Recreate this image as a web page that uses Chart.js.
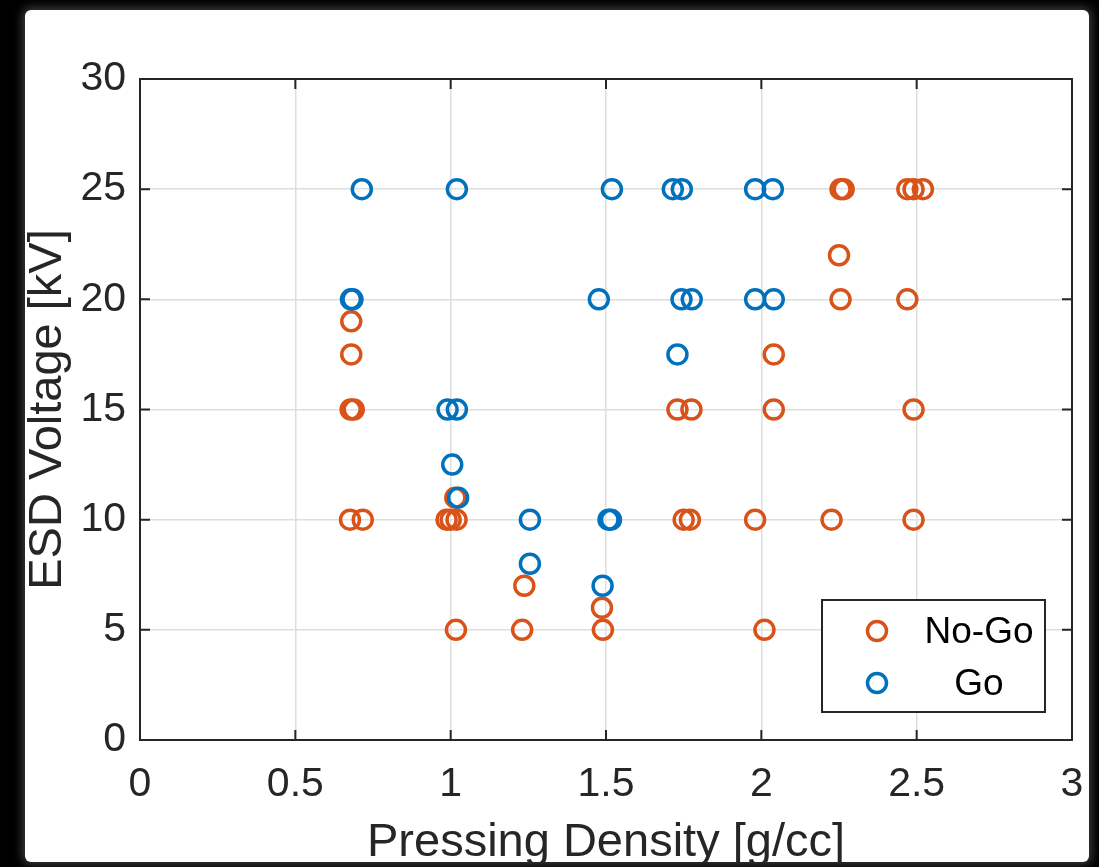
<!DOCTYPE html>
<html>
<head>
<meta charset="utf-8">
<script src="https://cdn.jsdelivr.net/npm/chart.js@4.4.1/dist/chart.umd.min.js"></script>
<style>
  html, body { margin: 0; padding: 0; background: #000; width: 1099px; height: 867px; overflow: hidden; }
  .panel {
    position: absolute; left: 25px; top: 10px; width: 1064px; height: 852px;
    background: #fff; border-radius: 6px; overflow: hidden;
    box-shadow: 0 0 10px 3px #3a3a3a;
  }
  canvas { display: block; }
</style>
</head>
<body>
<div class="panel"><canvas id="chart" width="1064" height="857"></canvas></div>
<script>
// ── Données ───────────────────────────────────────────────────────────────────
const noGoX = [2.255, 2.265, 2.47, 2.49, 2.52, 2.25, 2.255, 2.47, 0.68, 0.68, 2.04,
               0.678, 0.688, 1.73, 1.775, 2.04, 2.49, 1.015, 0.676, 0.717, 0.987,
               1.0, 1.019, 1.75, 1.77, 1.98, 2.226, 2.49, 1.237, 1.487, 1.017, 1.23,
               1.49, 2.01];
const noGoY = [25, 25, 25, 25, 25, 22, 20, 20, 19, 17.5, 17.5,
               15, 15, 15, 15, 15, 15, 11, 10, 10, 10,
               10, 10, 10, 10, 10, 10, 10, 7, 6, 5, 5,
               5, 5];

const goX = [0.714, 1.02, 1.519, 1.715, 1.744, 1.98, 2.037, 0.679, 0.684, 1.477,
             1.743, 1.776, 1.98, 2.04, 1.73, 0.99, 1.02, 1.005, 1.024, 1.255,
             1.508, 1.516, 1.255, 1.489];
const goY = [25, 25, 25, 25, 25, 25, 25, 20, 20, 20,
             20, 20, 20, 20, 17.5, 15, 15, 12.5, 11, 10,
             10, 10, 8, 7];

const xTicks = [0, 0.5, 1, 1.5, 2, 2.5, 3];
const yTicks = [0, 5, 10, 15, 20, 25, 30];

const seriesLabels = ['No-Go', 'Go'];
const COLORS = { orange: '#D95319', blue: '#0072BD', text: '#262626', grid: '#dedede' };

const FONT = "'Liberation Sans', Arial, sans-serif";
Chart.defaults.font.family = FONT;
Chart.defaults.color = COLORS.text;

const toPts = (xs, ys) => xs.map((x, i) => ({ x, y: ys[i] }));

// ── Cadre + graduations vers l'intérieur (style MATLAB) ──────────────────────
const framePlugin = {
  id: 'frame',
  afterDatasetsDraw(chart) {
    const { ctx, chartArea: a, scales: { x, y } } = chart;
    const tl = 10;
    ctx.save();
    ctx.strokeStyle = '#262626';
    ctx.lineWidth = 2;
    ctx.beginPath();
    xTicks.forEach(v => {
      const px = x.getPixelForValue(v);
      ctx.moveTo(px, a.bottom); ctx.lineTo(px, a.bottom - tl);
      ctx.moveTo(px, a.top);    ctx.lineTo(px, a.top + tl);
    });
    yTicks.forEach(v => {
      const py = y.getPixelForValue(v);
      ctx.moveTo(a.left, py);  ctx.lineTo(a.left + tl, py);
      ctx.moveTo(a.right, py); ctx.lineTo(a.right - tl, py);
    });
    ctx.stroke();
    ctx.strokeRect(a.left, a.top, a.right - a.left, a.bottom - a.top);
    ctx.restore();
  },
};

// ── Légende encadrée en bas à droite ─────────────────────────────────────────
const legendBoxPlugin = {
  id: 'legendBox',
  afterDraw(chart) {
    const { ctx, chartArea: a } = chart;
    const w = 223, h = 112;
    const left = a.right - 27 - w, top = a.bottom - 28 - h;
    ctx.save();
    ctx.fillStyle = '#fff';
    ctx.fillRect(left, top, w, h);
    ctx.strokeStyle = '#262626';
    ctx.lineWidth = 2;
    ctx.strokeRect(left, top, w, h);
    chart.data.datasets.forEach((ds, i) => {
      const cy = top + 31 + i * 52;
      ctx.beginPath();
      ctx.arc(left + 55, cy, 9.5, 0, Math.PI * 2);
      ctx.strokeStyle = ds.borderColor;
      ctx.lineWidth = 3.5;
      ctx.stroke();
      ctx.fillStyle = '#000';
      ctx.font = `37px ${FONT}`;
      ctx.textAlign = 'center';
      ctx.textBaseline = 'middle';
      ctx.fillText(ds.label, left + 157, cy + 2);
    });
    ctx.restore();
  },
};

new Chart(document.getElementById('chart'), {
  type: 'scatter',
  data: {
    datasets: [
      { label: seriesLabels[0], data: toPts(noGoX, noGoY), borderColor: COLORS.orange,
        backgroundColor: 'rgba(0,0,0,0)', pointRadius: 9.5, pointBorderWidth: 3.5, order: 1 },
      { label: seriesLabels[1], data: toPts(goX, goY), borderColor: COLORS.blue,
        backgroundColor: 'rgba(0,0,0,0)', pointRadius: 9.5, pointBorderWidth: 3.5, order: 0 },
    ],
  },
  options: {
    responsive: false,
    animation: false,
    events: [],
    layout: { padding: { top: 69, right: 17, left: 0, bottom: 0 } },
    plugins: { legend: { display: false }, tooltip: { enabled: false } },
    scales: {
      x: {
        type: 'linear', min: 0, max: 3,
        afterBuildTicks: s => { s.ticks = xTicks.map(v => ({ value: v })); },
        afterFit: s => { s.height = 127; s.paddingLeft = 0; s.paddingRight = 0; },
        grid: { color: COLORS.grid, lineWidth: 1.5, drawTicks: false },
        border: { display: false },
        ticks: { padding: 20, font: { size: 41 }, color: COLORS.text, maxRotation: 0,
                 callback: v => String(v) },
        title: { display: true, text: 'Pressing Density [g/cc]', padding: 0,
                 font: { size: 47, lineHeight: 1.0 }, color: COLORS.text },
      },
      y: {
        type: 'linear', min: 0, max: 30,
        afterBuildTicks: s => { s.ticks = yTicks.map(v => ({ value: v })); },
        afterFit: s => { s.width = 115; s.paddingTop = 0; s.paddingBottom = 0; },
        grid: { color: COLORS.grid, lineWidth: 1.5, drawTicks: false },
        border: { display: false },
        ticks: { padding: 14, font: { size: 41 }, color: COLORS.text,
                 callback: v => String(v) },
        title: { display: true, text: 'ESD Voltage [kV]', padding: 0,
                 font: { size: 47, lineHeight: 1.0 }, color: COLORS.text },
      },
    },
  },
  plugins: [framePlugin, legendBoxPlugin],
});
</script>
</body>
</html>
